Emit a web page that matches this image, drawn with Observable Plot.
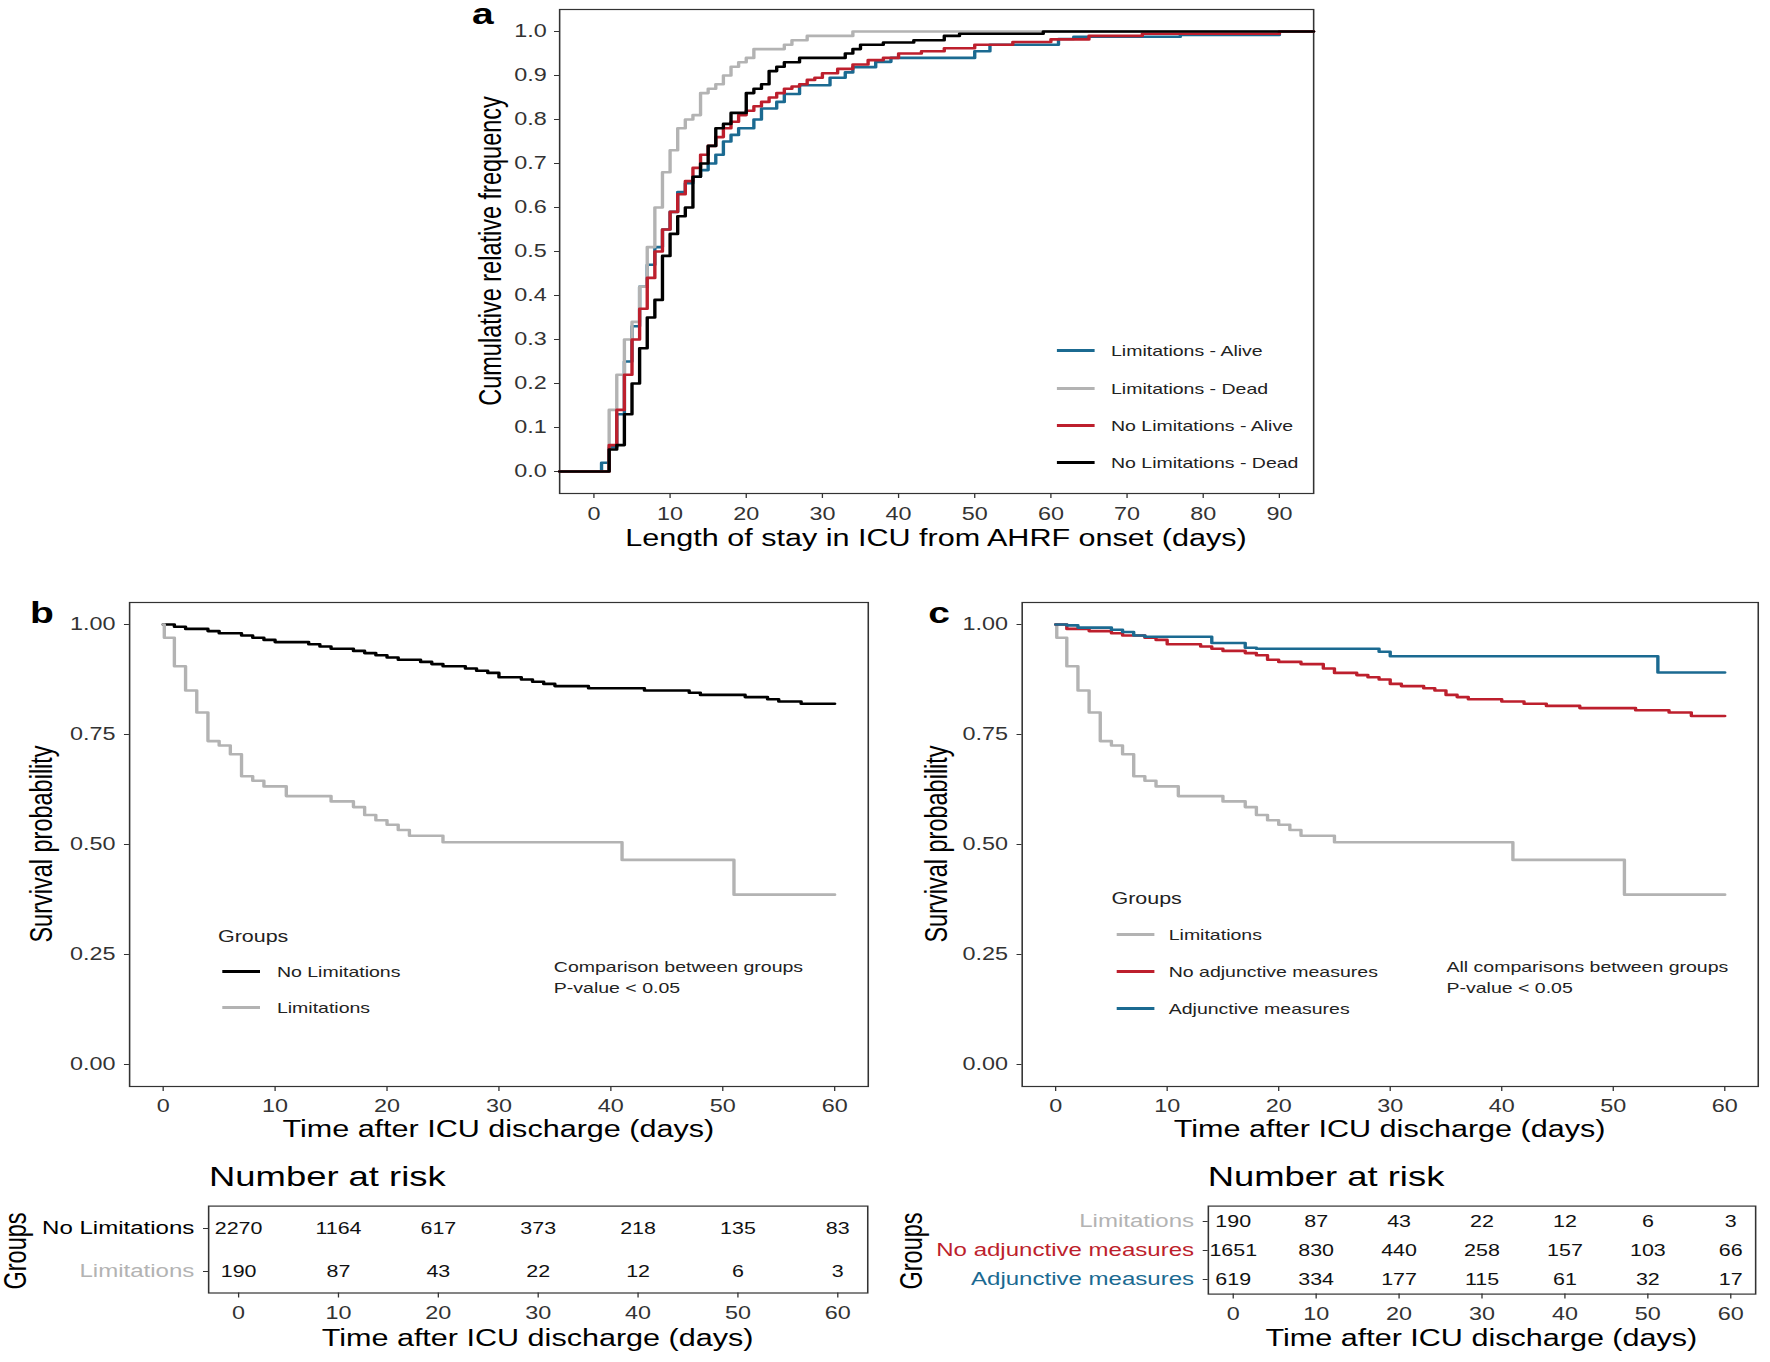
<!DOCTYPE html>
<html><head><meta charset="utf-8">
<script src="https://cdn.jsdelivr.net/npm/d3@7"></script>
<script src="https://cdn.jsdelivr.net/npm/@observablehq/plot@0.6"></script>
<style>
html,body{margin:0;padding:0;background:#fff;}
body{width:1770px;height:1362px;overflow:hidden;position:relative;}
#stage{position:absolute;left:0;top:0;width:1361.5px;height:1362px;transform:scaleX(1.3);transform-origin:0 0;font-family:"Liberation Sans",Arial,sans-serif;color:#000;}
.t{position:absolute;white-space:nowrap;line-height:1;}
.sw{position:absolute;height:3px;}
</style></head><body><div id="stage"></div>
<script>
// ---------- DATA ----------
// Panel a: cumulative relative frequency of ICU length of stay (days)
const aSeries = ["Limitations - Alive", "Limitations - Dead", "No Limitations - Alive", "No Limitations - Dead"];
const limAliveDays = [1,2,3,4,5,6,7,8,9,10,11,12,13,14,15,16,17,18,19,21,22,24,25,27,31,33,34,37,39,50,52,61,63,77,90];
const limAliveCum  = [0.02,0.055,0.13,0.25,0.33,0.42,0.47,0.51,0.55,0.59,0.635,0.655,0.67,0.685,0.70,0.72,0.75,0.765,0.78,0.80,0.825,0.84,0.858,0.878,0.895,0.907,0.919,0.931,0.94,0.955,0.97,0.983,0.988,0.992,1.0];
const limDeadDays = [2,3,4,5,6,7,8,9,10,11,12,13,14,15,16,17,18,19,20,21,25,26,28,34];
const limDeadCum  = [0.14,0.22,0.30,0.34,0.42,0.51,0.60,0.68,0.73,0.78,0.80,0.81,0.86,0.87,0.88,0.90,0.92,0.93,0.94,0.96,0.97,0.98,0.99,1.0];
const noLimAliveDays = [2,3,4,5,6,7,8,9,10,11,12,13,14,15,16,17,18,19,20,21,22,23,24,25,26,27,28,29,30,32,34,36,38,40,43,46,50,55,60,65,72,90];
const noLimAliveCum  = [0.06,0.14,0.22,0.30,0.37,0.44,0.50,0.55,0.59,0.63,0.66,0.69,0.72,0.74,0.76,0.78,0.795,0.81,0.82,0.83,0.84,0.85,0.86,0.87,0.875,0.88,0.89,0.895,0.905,0.915,0.925,0.935,0.94,0.95,0.955,0.962,0.97,0.976,0.982,0.99,0.995,1.0];
const noLimDeadDays = [2,3,4,5,6,7,8,9,10,11,12,13,14,15,16,17,18,20,21,22,23,24,25,27,33,34,35,38,42,46,48,59];
const noLimDeadCum  = [0.05,0.06,0.13,0.20,0.28,0.35,0.39,0.49,0.54,0.58,0.60,0.67,0.70,0.74,0.78,0.79,0.815,0.86,0.87,0.88,0.91,0.92,0.93,0.94,0.95,0.96,0.97,0.975,0.98,0.99,0.995,1.0];
const aTicksX = [0,10,20,30,40,50,60,70,80,90];
const aTicksY = [0,0.1,0.2,0.3,0.4,0.5,0.6,0.7,0.8,0.9,1.0];

// Panels b and c: survival after ICU discharge
const bGroups = ["No Limitations", "Limitations"];
const cGroups = ["Limitations", "No adjunctive measures", "Adjunctive measures"];
const noLimTimes = [0,1,2,4,5,7,8,9,10,13,14,15,17,18,19,20,21,23,24,25,27,28,29,30,32,33,34,35,38,43,47,48,52,54,55,57,60];
const noLimSurv  = [1.0,0.995,0.99,0.985,0.98,0.975,0.97,0.965,0.96,0.955,0.95,0.945,0.94,0.935,0.93,0.925,0.92,0.915,0.91,0.905,0.90,0.895,0.89,0.88,0.875,0.87,0.865,0.86,0.855,0.85,0.845,0.84,0.835,0.83,0.825,0.82,0.82];
const limTimes = [0,0.1,1,2,3,4,5,6,7,8,9,11,15,17,18,19,20,21,22,25,41,51,60];
const limSurv  = [1.0,0.97,0.905,0.85,0.80,0.735,0.725,0.705,0.655,0.645,0.632,0.61,0.598,0.585,0.567,0.555,0.545,0.533,0.52,0.505,0.465,0.386,0.386];
const noAdjTimes = [0,1,3,5,6,8,9,10,13,14,15,17,18,19,20,22,24,25,27,28,29,30,31,33,34,35,36,37,40,42,44,47,52,55,57,60];
const noAdjSurv  = [1.0,0.99,0.985,0.98,0.975,0.97,0.965,0.955,0.95,0.945,0.94,0.935,0.93,0.92,0.915,0.91,0.90,0.89,0.885,0.88,0.875,0.865,0.86,0.855,0.85,0.84,0.835,0.83,0.825,0.82,0.815,0.81,0.805,0.80,0.792,0.792];
const adjTimes = [0,1,2,5,6,7,8,14,17,18,29,30,54,60];
const adjSurv  = [1.0,0.998,0.993,0.988,0.983,0.975,0.972,0.958,0.947,0.945,0.938,0.928,0.891,0.891];
const survTicksY = [0, 0.25, 0.5, 0.75, 1];
const timeTicks = [0,10,20,30,40,50,60];

// Number at risk
const riskTimes = [0,10,20,30,40,50,60];
const riskNoLim = [2270,1164,617,373,218,135,83];
const riskLim = [190,87,43,22,12,6,3];
const riskNoAdj = [1651,830,440,258,157,103,66];
const riskAdj = [619,334,177,115,61,32,17];

// Colours
const colBlue = "#1b6a91", colGray = "#b3b3b3", colRed = "#bd1f2d", colBlack = "#000000";

// ---------- LAYOUT HELPERS ----------
const stage = document.getElementById("stage");
const FONT = '"Liberation Sans", Arial, sans-serif';
const AX = "#333333";
function place(el, left, top) {
  el.style.position = "absolute"; el.style.left = left + "px"; el.style.top = top + "px";
  stage.append(el);
}
function txt(str, x, y, o = {}) {
  const d = document.createElement("div");
  d.className = "t"; d.textContent = str;
  d.style.fontSize = (o.size || 15) + "px";
  d.style.fontWeight = o.weight || "normal";
  d.style.color = o.color || "#000";
  d.style.left = x + "px"; d.style.top = y + "px";
  const tx = o.anchor === "middle" ? "-50%" : o.anchor === "end" ? "-100%" : "0";
  d.style.transform = o.rotate ? "translate(-50%,-50%) rotate(-90deg)" : `translate(${tx},-50%)`;
  stage.append(d);
}
function swatch(x, y, w, color) {
  const d = document.createElement("div");
  d.className = "sw"; d.style.left = x + "px"; d.style.top = (y - 1.5) + "px";
  d.style.width = w + "px"; d.style.background = color;
  stage.append(d);
}
const baseStyle = {background: "transparent", fontFamily: FONT, fontSize: "18px", overflow: "visible"};

// ---------- PANEL A ----------
const xDomA = [-4.5, 94.5], yDomA = [-0.05, 1.05];
function ecdf(days, cum) {
  return [{x: xDomA[0], y: 0}, ...days.map((d, i) => ({x: d, y: cum[i]})), {x: xDomA[1], y: cum[cum.length - 1]}];
}
const aData = [
  [ecdf(limAliveDays, limAliveCum), colBlue],
  [ecdf(limDeadDays, limDeadCum), colGray],
  [ecdf(noLimAliveDays, noLimAliveCum), colRed],
  [ecdf(noLimDeadDays, noLimDeadCum), colBlack]
];
const aPlot = Plot.plot({
  width: 680, height: 560, marginLeft: 70, marginRight: 30, marginTop: 9, marginBottom: 67,
  style: baseStyle,
  x: {domain: xDomA}, y: {domain: yDomA},
  marks: [
    Plot.frame({stroke: AX, strokeWidth: 1.2}),
    Plot.axisX({ticks: aTicksX, tickSize: 5, tickPadding: 9, label: null, color: AX}),
    Plot.axisY({ticks: aTicksY, tickFormat: d3.format(".1f"), tickSize: 3.85, tickPadding: 6, label: null, color: AX}),
    ...aData.map(([pts, c]) => Plot.line(pts, {x: "x", y: "y", curve: "step-after", stroke: c, strokeWidth: 2.6}))
  ]
});
place(aPlot, 360, 0);
txt("a", 363, 14, {size: 30, weight: "bold"});
txt("Cumulative relative frequency", 377.7, 251, {size: 23.5, rotate: true});
txt("Length of stay in ICU from AHRF onset (days)", 720, 538.5, {size: 23.5, anchor: "middle"});
[[aSeries[0], colBlue, 350], [aSeries[1], colGray, 388], [aSeries[2], colRed, 425], [aSeries[3], colBlack, 462]]
  .forEach(([n, c, y]) => { swatch(813, y, 29, c); txt(n, 854.6, y, {size: 15, color: "#222"}); });

// ---------- PANELS B, C ----------
const xDomS = [-3, 63], yDomS = [-0.05, 1.05];
const km = (times, surv) => times.map((t, i) => ({x: t, y: surv[i]}));
function survPlot(series, width, ml, mr) {
  return Plot.plot({
    width, height: 560, marginLeft: ml, marginRight: mr, marginTop: 12, marginBottom: 64,
    style: baseStyle,
    x: {domain: xDomS}, y: {domain: yDomS},
    marks: [
      Plot.frame({stroke: AX, strokeWidth: 1.2}),
      Plot.axisX({ticks: timeTicks, tickSize: 5, tickPadding: 8, label: null, color: AX}),
      Plot.axisY({ticks: survTicksY, tickFormat: d3.format(".2f"), tickSize: 3.85, tickPadding: 7, label: null, color: AX}),
      ...series.map(([pts, c]) => Plot.line(pts, {x: "x", y: "y", curve: "step-after", stroke: c, strokeWidth: 2.6}))
    ]
  });
}
place(survPlot([[km(noLimTimes, noLimSurv), colBlack], [km(limTimes, limSurv), colGray]], 670, 79.2, 22.6), 20, 590);
place(survPlot([[km(limTimes, limSurv), colGray], [km(noAdjTimes, noAdjSurv), colRed], [km(adjTimes, adjSurv), colBlue]], 651, 75.8, 9), 710, 590);

txt("b", 23, 613, {size: 30, weight: "bold"});
txt("c", 714, 613, {size: 30, weight: "bold"});
txt("Survival probability", 33, 844, {size: 23.5, rotate: true});
txt("Survival probability", 720.8, 844, {size: 23.5, rotate: true});
txt("Time after ICU discharge (days)", 383.3, 1130, {size: 23.5, anchor: "middle"});
txt("Time after ICU discharge (days)", 1068.9, 1130, {size: 23.5, anchor: "middle"});

// legend b
txt("Groups", 167.7, 936, {size: 16.5, color: "#222"});
[[bGroups[0], colBlack, 971], [bGroups[1], colGray, 1007]].forEach(([n, c, y]) => { swatch(171, y, 29, c); txt(n, 213, y, {size: 15, color: "#222"}); });
txt("Comparison between groups", 426, 966, {size: 15, color: "#222"});
txt("P-value < 0.05", 426, 987, {size: 15, color: "#222"});

// legend c
txt("Groups", 855, 898, {size: 16.5, color: "#222"});
[[cGroups[0], colGray, 934], [cGroups[1], colRed, 971], [cGroups[2], colBlue, 1008]].forEach(([n, c, y]) => { swatch(859, y, 29, c); txt(n, 899, y, {size: 15, color: "#222"}); });
txt("All comparisons between groups", 1112.7, 966, {size: 15, color: "#222"});
txt("P-value < 0.05", 1112.7, 987, {size: 15, color: "#222"});

// ---------- RISK TABLES ----------
function riskPlot(groups, counts, colors, width, ml, mr, mb) {
  const cells = [];
  groups.forEach((g, gi) => riskTimes.forEach((t, ti) => cells.push({t, g, n: String(counts[gi][ti])})));
  return Plot.plot({
    width, height: 212, marginLeft: ml, marginRight: mr, marginTop: 55.6, marginBottom: mb,
    style: baseStyle,
    x: {domain: xDomS},
    y: {type: "point", domain: groups, padding: 0.5},
    marks: [
      Plot.frame({stroke: AX, strokeWidth: 1.2}),
      Plot.axisX({ticks: timeTicks, tickSize: 5, tickPadding: 8, label: null, color: AX}),
      Plot.axisY({tickSize: 3.85, tickFormat: () => "", label: null, color: AX}),
      ...groups.map((g, gi) => Plot.text([g], {y: d => d, text: d => d, frameAnchor: "left", textAnchor: "end", dx: -11, fill: colors[gi], fontSize: 18.5})),
      Plot.text(cells, {x: "t", y: "g", text: "n", fill: "#111", fontSize: 16.5})
    ]
  });
}
place(riskPlot(bGroups, [riskNoLim, riskLim], [colBlack, colGray], 690, 160, 23, 69.5), 0, 1150);
place(riskPlot(cGroups, [riskLim, riskNoAdj, riskAdj], [colGray, colRed, colBlue], 671, 239, 11, 68.4), 690, 1150);

txt("Number at risk", 160.8, 1177, {size: 28});
txt("Number at risk", 929, 1177, {size: 28});
txt("Groups", 13, 1251, {size: 23.5, rotate: true});
txt("Groups", 701.7, 1251, {size: 23.5, rotate: true});
txt("Time after ICU discharge (days)", 413.5, 1339, {size: 23.5, anchor: "middle"});
txt("Time after ICU discharge (days)", 1139.5, 1339, {size: 23.5, anchor: "middle"});
</script></body></html>
